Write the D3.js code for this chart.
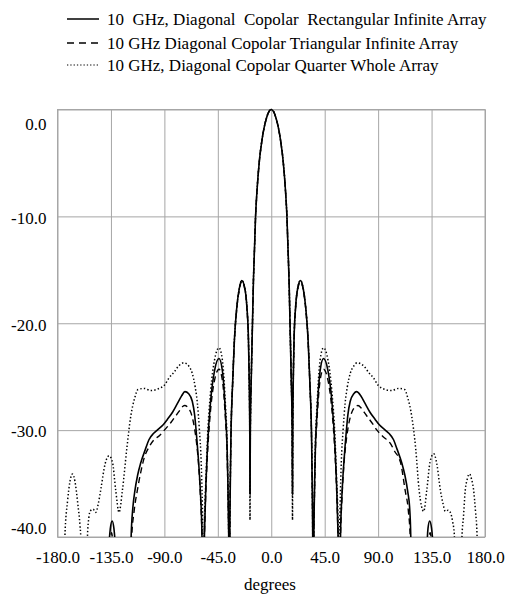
<!DOCTYPE html>
<html><head><meta charset="utf-8">
<script src="https://cdn.jsdelivr.net/npm/d3@7"></script>
<style>body{margin:0;background:#fff}svg text{font-family:"Liberation Serif","Times New Roman",serif;fill:#000}</style>
</head><body>
<svg id="c" width="505" height="594"></svg>
<script>
const seriesLabels = [
  "10  GHz, Diagonal  Copolar  Rectangular Infinite Array",
  "10 GHz Diagonal Copolar Triangular Infinite Array",
  "10 GHz, Diagonal Copolar Quarter Whole Array"
];
const xTicks = [-180, -135, -90, -45, 0, 45, 90, 135, 180];
const yTicks = [0, -10, -20, -30, -40];
const xTitle = "degrees";

// [degrees, dB] (values below -40 are off the chart)
const rectData = [
  [-180,-50],[-137.5,-50],[-136.6,-41],[-135.5,-39.2],[-134,-38.5],[-132.5,-39.2],[-131.4,-41],[-130.5,-50],
  [-119,-50],[-118,-40],[-116.5,-37.2],[-115,-35.8],[-112.5,-34.2],[-110,-33.1],[-106,-31.8],[-103,-30.9],
  [-99,-30.3],[-96,-30],[-91,-29.5],[-87.5,-29],[-83,-28.3],[-79,-27.5],[-75.5,-26.8],[-72.7,-26.4],
  [-69.5,-26.6],[-66.5,-27.3],[-64.5,-28.6],[-63.3,-30],[-61.5,-32.5],[-59.8,-35.5],[-58.5,-39],[-57.5,-45],
  [-56.3,-40],[-55,-35],[-53.8,-31.8],[-51,-27.2],[-47.7,-24.4],[-44,-23.3],[-41.2,-24.4],[-38.4,-28.7],
  [-37.2,-31.5],[-36.5,-35],[-35.8,-40],[-35.3,-45],
  [-34.8,-38],[-34,-31],[-32.5,-25.5],[-31,-21.5],[-29,-18.5],[-27,-16.8],[-24.8,-16],[-22.5,-16.6],
  [-20.5,-18.5],[-19.2,-21.5],[-18.6,-25],[-18.1,-30],[-17.9,-36],
  [-17.6,-30],[-16.8,-25],[-15.8,-20],[-15,-16],[-14.1,-13],[-13.2,-10],[-12,-7.6],[-10,-4.8],[-8,-3],
  [-6,-1.7],[-4,-0.8],[-2,-0.2],[0,0],
  [2,-0.2],[4,-0.8],[6,-1.7],[8,-3],[10,-4.8],[12,-7.6],[13.2,-10],[14.1,-13],[15,-16],[15.8,-20],[16.8,-25],[17.6,-30],
  [17.9,-36],[18.1,-30],[18.6,-25],[19.2,-21.5],[20.5,-18.5],[22.5,-16.6],[24.6,-16],[27,-16.8],[29,-18.5],
  [31,-21.5],[32.5,-25.5],[34,-31],[34.8,-38],[35.3,-45],
  [35.8,-40],[36.5,-35],[37.2,-31.5],[38.4,-28.7],[41.2,-24.4],[44,-23.3],[47.7,-24.4],[51,-27.2],[53.8,-31.8],
  [55,-35],[56.3,-40],[57.5,-45],
  [58.5,-39],[59.8,-35.5],[61.5,-32.5],[63.3,-30],[64.5,-28.6],[66.5,-27.3],[69.5,-26.6],[71.8,-26.4],[75.5,-26.8],
  [79,-27.5],[83,-28.3],[87.5,-29],[91,-29.5],[96,-30],[99,-30.3],[103,-30.9],[106,-31.8],[110,-33.1],
  [112.5,-34.2],[115,-35.8],[116.5,-37.2],[117.5,-40],[118.5,-50],
  [130.3,-50],[131.2,-41],[132,-39.2],[133.4,-38.5],[135,-39.2],[136.2,-41],[137,-50],[180,-50]
];
const triData = [
  [-180,-50],[-137.2,-50],[-135.8,-41],[-134.5,-39.6],[-133.2,-41],[-131.8,-50],
  [-118.8,-50],[-117.5,-40],[-115.5,-37.6],[-112.7,-35.6],[-110,-34],[-107,-32.6],[-103,-31.6],[-98.7,-30.9],
  [-94,-30.5],[-90,-30],[-86,-29.5],[-82,-28.9],[-78,-28.3],[-75.5,-27.9],[-73,-27.7],[-70,-27.9],[-67,-28.6],
  [-64.5,-29.9],[-62.8,-31.3],[-61,-33.5],[-59.5,-36.5],[-58.3,-40],[-57.5,-45],
  [-56.3,-40],[-55,-35.5],[-53.8,-32.5],[-51,-28],[-47.7,-25.3],[-44,-24.3],[-41.2,-25.3],[-38.4,-29.3],
  [-37.2,-32],[-36.5,-35.5],[-35.8,-40],[-35.3,-45],
  [-34.8,-38],[-34,-31],[-32.5,-25.6],[-31,-21.6],[-29,-18.6],[-27,-16.9],[-24.8,-16.1],[-22.5,-16.7],
  [-20.5,-18.6],[-19.2,-21.6],[-18.6,-25],[-18.1,-30],[-17.9,-36],
  [-17.6,-30],[-16.8,-25],[-15.8,-20],[-15,-16],[-14.1,-13],[-13.2,-10],[-12,-7.6],[-10,-4.8],[-8,-3],
  [-6,-1.7],[-4,-0.8],[-2,-0.2],[0,0],
  [2,-0.2],[4,-0.8],[6,-1.7],[8,-3],[10,-4.8],[12,-7.6],[13.2,-10],[14.1,-13],[15,-16],[15.8,-20],[16.8,-25],[17.6,-30],
  [17.9,-36],[18.1,-30],[18.6,-25],[19.2,-21.6],[20.5,-18.6],[22.5,-16.7],[24.6,-16.1],[27,-16.9],[29,-18.6],
  [31,-21.6],[32.5,-25.6],[34,-31],[34.8,-38],[35.3,-45],
  [35.8,-40],[36.5,-35.5],[37.2,-32],[38.4,-29.3],[41.2,-25.3],[44,-24.3],[47.7,-25.3],[51,-28],[53.8,-32.5],
  [55,-35.5],[56.3,-40],[57.5,-45],
  [58.3,-40],[59.5,-36.5],[61,-33.5],[62.8,-31.3],[64.5,-29.9],[67,-28.6],[70,-27.9],[73,-27.7],[75.5,-27.9],
  [78,-28.3],[82,-28.9],[86,-29.5],[89,-30],[94,-30.6],[100,-31.2],[104,-32],[108.8,-33],[112.7,-35.6],
  [115.5,-37.6],[117,-40],[118,-50],
  [131,-50],[132.3,-41],[133.8,-39.6],[135.2,-41],[136.5,-50],[180,-50]
];
const quarterData = [
  [-180,-50],[-174.5,-50],[-173.8,-40],[-171.5,-36.6],[-169.5,-34.8],[-167.4,-34.1],[-165.3,-34.8],[-163,-36.8],
  [-161,-39],[-160.4,-40],[-159.6,-50],
  [-155.6,-50],[-154.8,-40],[-153.6,-38.2],[-152.6,-37.6],[-150,-37.4],[-147.8,-37.7],[-145.5,-36.8],
  [-143.6,-35.6],[-140,-33.2],[-136.6,-32.4],[-133.7,-33],[-131,-35.6],[-128.2,-37.7],[-125.3,-35.6],
  [-121.7,-31.8],[-118.3,-28.7],[-115,-27],[-112.2,-26.2],[-107,-26.1],[-101.5,-26.3],[-94.5,-26.1],
  [-90,-25.8],[-86,-25.1],[-82,-24.6],[-78,-24],[-73.5,-23.7],[-69.5,-24],[-66.5,-24.7],[-64,-26],
  [-62.2,-27.5],[-60.5,-30],[-59,-33],[-58,-37],[-57.5,-40],[-57,-45],
  [-56.5,-40],[-55,-34.5],[-53.8,-31],[-51,-26.3],[-47.7,-23.4],[-44,-22.3],[-41.2,-23.4],[-38.4,-28],
  [-37.2,-31],[-36.5,-35],[-35.8,-40],[-35.3,-45],
  [-34.8,-38],[-34,-31],[-32.5,-25.5],[-31,-21.5],[-29,-18.5],[-27,-16.8],[-24.8,-16],[-22.5,-16.6],
  [-20.5,-18.5],[-19.2,-21.5],[-18.6,-25],[-18.1,-30],[-17.9,-38.4],
  [-17.6,-30],[-16.8,-25],[-15.8,-20],[-15,-16],[-14.1,-13],[-13.2,-10],[-12,-7.6],[-10,-4.8],[-8,-3],
  [-6,-1.7],[-4,-0.8],[-2,-0.2],[0,0],
  [2,-0.2],[4,-0.8],[6,-1.7],[8,-3],[10,-4.8],[12,-7.6],[13.2,-10],[14.1,-13],[15,-16],[15.8,-20],[16.8,-25],[17.6,-30],
  [17.9,-38.4],[18.1,-30],[18.6,-25],[19.2,-21.5],[20.5,-18.5],[22.5,-16.6],[24.6,-16],[27,-16.8],[29,-18.5],
  [31,-21.5],[32.5,-25.5],[34,-31],[34.8,-38],[35.3,-45],
  [35.8,-40],[36.5,-35],[37.2,-31],[38.4,-28],[41.2,-23.4],[44,-22.3],[47.7,-23.4],[51,-26.3],[53.8,-31],
  [55,-34.5],[56.5,-40],[57,-45],
  [57.5,-40],[58,-37],[59,-33],[60.5,-30],[62.2,-27.5],[64,-26],[66.5,-24.7],[69.5,-24],[72.3,-23.7],
  [78,-24],[82,-24.6],[86,-25.1],[90,-25.8],[96,-26.2],[101.5,-26.3],[107,-26.1],[112.2,-26.2],[115,-27],
  [118.3,-28.7],[121.7,-31.8],[124.5,-35.6],[128.4,-37.6],[131,-35.6],[133.7,-33],[136.8,-32.2],[139.5,-33.2],
  [142.4,-35.6],[144.5,-36.8],[146.6,-37.6],[148.8,-37.5],[150.8,-37.7],[152.8,-38.6],[154.2,-39.8],[155,-50],
  [159.8,-50],[160.6,-40],[161.8,-38.2],[163.4,-35.6],[165,-34.6],[167,-34.1],[168.7,-34.6],[170.4,-35.6],
  [172,-37.6],[173.3,-39.8],[174,-50],[180,-50]
];

const FONT = "17px";
const svg = d3.select("#c");
const L = 57.5, R = 485, T = 109.5, B = 537;
const x = d3.scaleLinear().domain([-180, 180]).range([L, R]);
const y = d3.scaleLinear().domain([-40, 0]).range([B, T]);
const fmt = d => d3.format(".1f")(d).replace("\u2212", "-");

// grid
const grid = svg.append("g");
grid.append("g").attr("transform", `translate(0,${B})`)
  .call(d3.axisBottom(x).tickValues(xTicks).tickSize(-(B - T)).tickFormat(""))
  .call(g => g.select(".domain").remove())
  .call(g => g.selectAll("line").attr("stroke", "#a6a6a6").attr("stroke-width", 1));
grid.append("g").attr("transform", `translate(${L},0)`)
  .call(d3.axisLeft(y).tickValues(yTicks).tickSize(-(R - L)).tickFormat(""))
  .call(g => g.select(".domain").remove())
  .call(g => g.selectAll("line").attr("stroke", "#a6a6a6").attr("stroke-width", 1));
grid.append("rect").attr("x", L).attr("y", T).attr("width", R - L).attr("height", B - T)
  .attr("fill", "none").attr("stroke", "#a6a6a6").attr("stroke-width", 1);

// tick labels
const xa = svg.append("g").attr("transform", `translate(0,${B})`)
  .call(d3.axisBottom(x).tickValues(xTicks).tickSize(0).tickPadding(14).tickFormat(fmt));
xa.select(".domain").remove();
xa.selectAll("text").style("font-size", FONT).style("font-family", "Liberation Serif");

const ya = svg.append("g").attr("transform", `translate(${L},0)`)
  .call(d3.axisLeft(y).tickValues(yTicks).tickSize(0).tickPadding(11).tickFormat(fmt));
ya.select(".domain").remove();
ya.selectAll("text").style("font-size", FONT).style("font-family", "Liberation Serif")
  .attr("dy", d => d === 0 ? "1.15em" : d === -40 ? "-0.2em" : "0.4em");

svg.append("text").attr("x", 270).attr("y", 590).attr("text-anchor", "middle")
  .style("font-size", FONT).text(xTitle);

// clip
svg.append("defs").append("clipPath").attr("id", "clip")
  .append("rect").attr("x", L - 2).attr("y", T - 6).attr("width", R - L + 4).attr("height", B - T + 6);

const line = d3.line().x(d => x(d[0])).y(d => y(d[1])).curve(d3.curveMonotoneX);
const styles = [
  {data: rectData, dash: null, w: 1.6},
  {data: triData, dash: "6,4", w: 1.4},
  {data: quarterData, dash: "1.4,2.2", w: 1.5}
];
const plot = svg.append("g").attr("clip-path", "url(#clip)");
styles.forEach(s => {
  plot.append("path").datum(s.data).attr("d", line).attr("fill", "none")
    .attr("stroke", "#000").attr("stroke-width", s.w)
    .attr("stroke-dasharray", s.dash).attr("stroke-linejoin", "round");
});

// legend
const legY = [19, 43, 65];
const lg = svg.append("g");
seriesLabels.forEach((t, i) => {
  lg.append("line").attr("x1", 67).attr("x2", 99).attr("y1", legY[i]).attr("y2", legY[i])
    .attr("stroke", "#000").attr("stroke-width", i === 2 ? 1.2 : 1.5)
    .attr("stroke-dasharray", i === 1 ? "7,5" : i === 2 ? "1.3,2" : null);
  lg.append("text").attr("x", 107).attr("y", legY[i] + 5.5)
    .style("font-size", FONT).style("white-space", "pre").attr("xml:space", "preserve").text(t);
});
</script>
</body></html>
